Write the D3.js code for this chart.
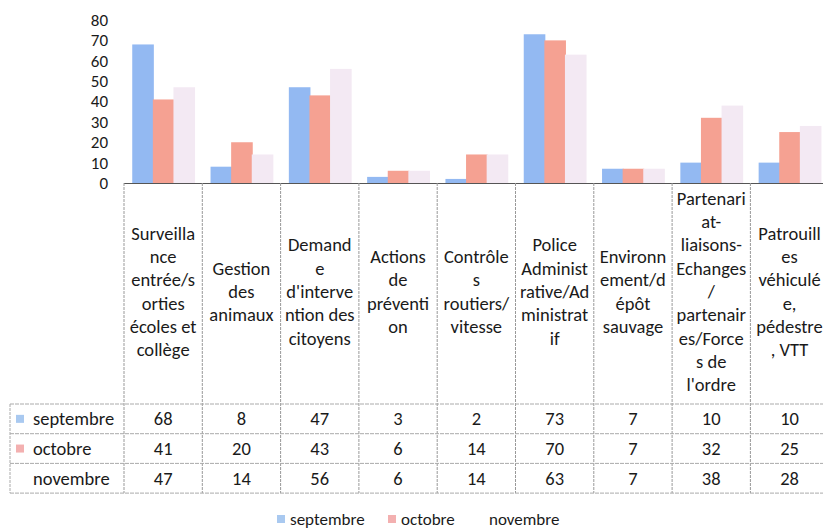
<!DOCTYPE html>
<html><head><meta charset="utf-8">
<script src="https://cdn.jsdelivr.net/npm/d3@7/dist/d3.min.js"></script>
<style>body{margin:0;background:#fff}svg{display:block}text{font-family:Carlito,Lato,"Open Sans",sans-serif;fill:#1a1a1a}</style>
</head><body><svg id="c" width="823" height="529"></svg>
<script>
const categories = [
  ["Surveilla","nce","entrée/s","orties","écoles et","collège"],
  ["Gestion","des","animaux"],
  ["Demand","e","d'interve","ntion des","citoyens"],
  ["Actions","de","préventi","on"],
  ["Contrôle","s","routiers/","vitesse"],
  ["Police","Administ","rative/Ad","ministrat","if"],
  ["Environn","ement/d","épôt","sauvage"],
  ["Partenari","at-","liaisons-","Echanges","/","partenair","es/Force","s de","l'ordre"],
  ["Patrouill","es","véhiculé","e,","pédestre",", VTT"]
];
const seriesNames = ["septembre","octobre","novembre"];
const septembre = [68,8,47,3,2,73,7,10,10];
const octobre   = [41,20,43,6,14,70,7,32,25];
const novembre  = [47,14,56,6,14,63,7,38,28];
const yTicks = [0,10,20,30,40,50,60,70,80];

const series = [septembre, octobre, novembre];
const colors = ["#93b9f2","#f5a192","#f3e9f3"];
const legendColors = ["#a9c9f0","#f3b0b0","#ffffff"];

const svg = d3.select("#c");
const x0 = 124, bandW = 78.3;
const x = d3.scaleBand().domain(d3.range(categories.length)).range([x0, x0 + bandW*categories.length]).paddingInner(0).paddingOuter(0);
const y = d3.scaleLinear().domain([0,80]).range([183,20]);
const xs = d3.scaleBand().domain(d3.range(3)).range([0, x.bandwidth()]).paddingOuter(0.4).paddingInner(0);

// bars
series.forEach((s,si)=>{
  svg.append("g").selectAll("rect").data(s).join("rect")
    .attr("x",(d,i)=>x(i)+xs(si)).attr("width",xs.bandwidth()+1)
    .attr("y",d=>y(d)).attr("height",d=>y(0)-y(d))
    .attr("fill",colors[si]);
});

// y axis
const ya = svg.append("g").attr("transform","translate(108,0)")
  .call(d3.axisLeft(y).tickValues(yTicks).tickSize(0).tickPadding(0));
ya.select(".domain").remove();
ya.selectAll("text").attr("font-size",17).attr("fill","#1a1a1a").style("font-family","Carlito,Lato,sans-serif");

// axis line
const xEnd = x0 + bandW*categories.length;
svg.append("line").attr("x1",x0).attr("x2",xEnd).attr("y1",183.5).attr("y2",183.5).attr("stroke","#555").attr("stroke-width",1.2);

// table geometry
const headTop = 183, headBot = 404, rowH = 29.7, labelX = 10;
const rowsY = d3.range(4).map(i=>headBot + i*rowH);
const lineColor = "#aaa";

// vertical lines
d3.range(categories.length+1).forEach(i=>{
  const xx = x0 + i*bandW;
  svg.append("line").attr("x1",xx).attr("x2",xx).attr("y1",headTop).attr("y2",rowsY[3])
    .attr("stroke","#999").attr("stroke-width",1).attr("stroke-dasharray","3,1");
});
svg.append("line").attr("x1",labelX).attr("x2",labelX).attr("y1",headBot).attr("y2",rowsY[3]).attr("stroke",lineColor).attr("stroke-dasharray","3,1");
// horizontal lines
rowsY.forEach(yy=>{
  svg.append("line").attr("x1",labelX).attr("x2",xEnd).attr("y1",yy).attr("y2",yy).attr("stroke",lineColor).attr("stroke-dasharray","4,1");
});

// header labels
const lh = 23.3;
categories.forEach((lines,i)=>{
  const cx = x(i) + bandW/2;
  const mid = (headTop+headBot)/2 - 2;
  const start = mid - (lines.length-1)*lh/2;
  const t = svg.append("text").attr("text-anchor","middle").attr("font-size",18.5);
  lines.forEach((l,j)=>{
    t.append("tspan").attr("x",cx).attr("y",start + j*lh).attr("dy","0.35em").text(l);
  });
});

// data rows
series.forEach((s,si)=>{
  const cy = rowsY[si] + rowH/2;
  svg.append("rect").attr("x",16).attr("y",cy-4).attr("width",8).attr("height",8).attr("fill",legendColors[si]);
  svg.append("text").attr("x",33).attr("y",cy).attr("dy","0.35em").attr("font-size",18.5).text(seriesNames[si]);
  svg.append("g").selectAll("text").data(s).join("text")
    .attr("x",(d,i)=>x(i)+bandW/2).attr("y",cy).attr("dy","0.35em")
    .attr("text-anchor","middle").attr("font-size",18.5).text(d=>d);
});

// legend
const legX = [277, 388, 476];
seriesNames.forEach((n,i)=>{
  svg.append("rect").attr("x",legX[i]).attr("y",515).attr("width",8).attr("height",8).attr("fill",legendColors[i]);
  svg.append("text").attr("x",legX[i]+13).attr("y",519).attr("dy","0.35em").attr("font-size",17).text(n);
});
</script></body></html>
